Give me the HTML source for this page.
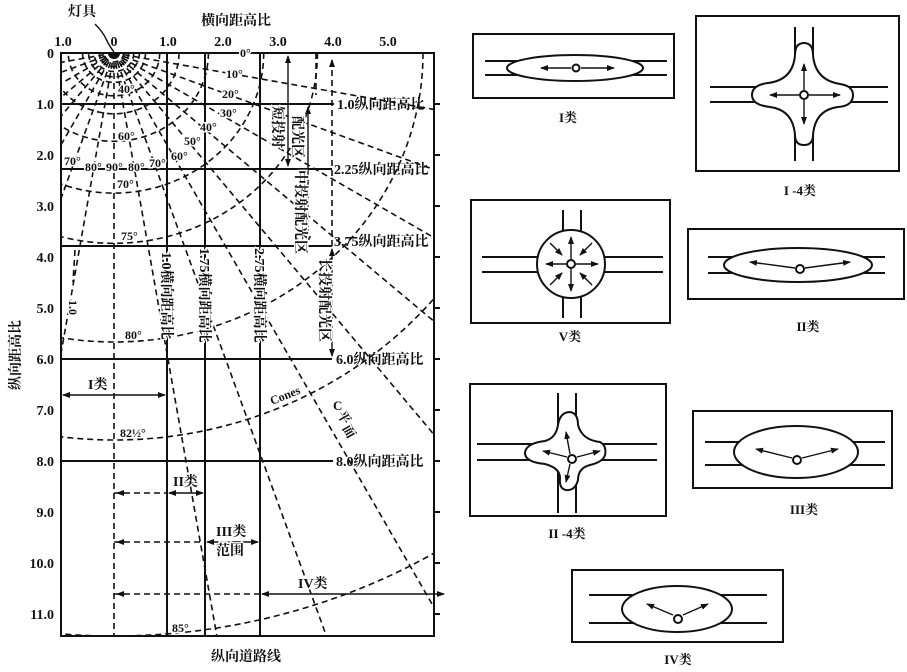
<!DOCTYPE html>
<html><head><meta charset="utf-8">
<style>
html,body{margin:0;padding:0;background:#fff;width:907px;height:672px;overflow:hidden;}
svg{display:block;}
text{font-family:"Liberation Serif","Noto Serif CJK SC",serif;font-weight:bold;fill:#111;}
.d{fill:none;stroke:#111;stroke-width:1.6;stroke-dasharray:6 4;}
.s{fill:none;stroke:#111;stroke-width:2;}
.t{fill:none;stroke:#111;stroke-width:1.4;}
.h{paint-order:stroke;stroke:#fff;stroke-width:3px;}
</style></head>
<body>
<svg width="907" height="672" viewBox="0 0 907 672" xmlns="http://www.w3.org/2000/svg">
<defs>
<marker id="a" markerWidth="8" markerHeight="6" refX="7" refY="3" orient="auto" markerUnits="userSpaceOnUse"><path d="M0,0 L8,3 L0,6 Z" fill="#111"/></marker>
<marker id="b" markerWidth="8" markerHeight="6" refX="1" refY="3" orient="auto" markerUnits="userSpaceOnUse"><path d="M8,0 L0,3 L8,6 Z" fill="#111"/></marker>
<clipPath id="c"><rect x="61" y="53" width="373" height="583"/></clipPath>
</defs>

<g clip-path="url(#c)">
<g class="d">
<line x1="114" y1="53" x2="902" y2="192"/>
<line x1="114" y1="53" x2="866" y2="327"/>
<line x1="114" y1="53" x2="807" y2="453"/>
<line x1="114" y1="53" x2="727" y2="567"/>
<line x1="114" y1="53" x2="628" y2="666"/>
<line x1="114" y1="53" x2="514" y2="746"/>
<line x1="114" y1="53" x2="388" y2="805"/>
<line x1="114" y1="53" x2="253" y2="841"/>
<line x1="114" y1="53" x2="114" y2="853"/>
<line x1="114" y1="53" x2="-25" y2="841"/>
<line x1="114" y1="53" x2="-160" y2="805"/>
<line x1="114" y1="53" x2="-286" y2="746"/>
<line x1="114" y1="53" x2="-400" y2="666"/>
<line x1="114" y1="53" x2="-499" y2="567"/>
<line x1="114" y1="53" x2="-579" y2="453"/>
<line x1="114" y1="53" x2="-638" y2="327"/>
<line x1="114" y1="53" x2="-674" y2="192"/>
<ellipse cx="114" cy="53" rx="5" ry="5"/>
<ellipse cx="114" cy="53" rx="9.6" ry="9"/>
<ellipse cx="114" cy="53" rx="14.6" ry="13.7"/>
<ellipse cx="114" cy="53" rx="19.8" ry="18.6"/>
<ellipse cx="114" cy="53" rx="25.4" ry="23.8"/>
<ellipse cx="114" cy="53" rx="31.5" ry="29.4"/>
<ellipse cx="114" cy="53" rx="45.7" ry="42.8"/>
<ellipse cx="114" cy="53" rx="65" ry="60.8"/>
<ellipse cx="114" cy="53" rx="94.4" ry="88.3"/>
<ellipse cx="114" cy="53" rx="149.7" ry="140.1"/>
<ellipse cx="114" cy="53" rx="203.4" ry="190.3"/>
<ellipse cx="114" cy="53" rx="309" ry="289"/>
<ellipse cx="114" cy="53" rx="414" ry="387"/>
<ellipse cx="114" cy="53" rx="623" ry="583"/>
</g>
</g>
<line class="d" x1="75" y1="250" x2="73" y2="282"/>

<rect x="61" y="53" width="373" height="583" class="s"/>
<line class="s" x1="61" y1="104" x2="334" y2="104"/>
<line class="s" x1="61" y1="169" x2="332" y2="169"/>
<line class="s" x1="61" y1="246" x2="332" y2="246"/>
<line class="s" x1="61" y1="359" x2="332" y2="359"/>
<line class="s" x1="61" y1="461" x2="333" y2="461"/>
<line class="s" x1="167" y1="53" x2="167" y2="636"/>
<line class="s" x1="205" y1="53" x2="205" y2="636"/>
<line class="s" x1="260" y1="53" x2="260" y2="636"/>
<line class="d" x1="316" y1="53" x2="316" y2="95"/>
<line class="d" x1="332" y1="60" x2="332" y2="246" marker-start="url(#b)"/>
<line class="t" x1="288" y1="56" x2="288" y2="166" marker-start="url(#b)" marker-end="url(#a)"/>
<line class="t" x1="308" y1="107" x2="308" y2="243" marker-start="url(#b)" marker-end="url(#a)"/>
<line class="t" x1="332" y1="249" x2="332" y2="356" marker-start="url(#b)" marker-end="url(#a)"/>
<g class="s">
<line x1="434" y1="104" x2="440" y2="104"/><line x1="434" y1="155" x2="440" y2="155"/>
<line x1="434" y1="206" x2="440" y2="206"/><line x1="434" y1="257" x2="440" y2="257"/>
<line x1="434" y1="308" x2="440" y2="308"/><line x1="434" y1="359" x2="440" y2="359"/>
<line x1="434" y1="410" x2="440" y2="410"/><line x1="434" y1="461" x2="440" y2="461"/>
<line x1="434" y1="512" x2="440" y2="512"/><line x1="434" y1="563" x2="440" y2="563"/>
<line x1="434" y1="614" x2="440" y2="614"/>
</g>
<line class="t" x1="63" y1="395" x2="165" y2="395" marker-start="url(#b)" marker-end="url(#a)"/>
<line class="d" x1="114" y1="493" x2="167" y2="493"/>
<line class="t" x1="117" y1="493" x2="125" y2="493" marker-start="url(#b)"/>
<line class="t" x1="169" y1="493" x2="203" y2="493" marker-start="url(#b)" marker-end="url(#a)"/>
<line class="d" x1="114" y1="542" x2="205" y2="542"/>
<line class="t" x1="117" y1="542" x2="125" y2="542" marker-start="url(#b)"/>
<line class="t" x1="207" y1="542" x2="258" y2="542" marker-start="url(#b)" marker-end="url(#a)"/>
<line class="d" x1="114" y1="594" x2="260" y2="594"/>
<line class="t" x1="117" y1="594" x2="125" y2="594" marker-start="url(#b)"/>
<line class="t" x1="262" y1="594" x2="444" y2="594" marker-start="url(#b)" marker-end="url(#a)"/>
<path class="t" d="M95,24 Q103,32 106,39 Q110,47 114,52"/>

<g font-size="14">
<text x="82" y="16" text-anchor="middle">灯具</text>
<text x="236" y="25" text-anchor="middle">横向距高比</text>
<text x="63" y="46" text-anchor="middle">1.0</text>
<text x="114" y="46" text-anchor="middle">0</text>
<text x="168" y="46" text-anchor="middle">1.0</text>
<text x="223" y="46" text-anchor="middle">2.0</text>
<text x="278" y="46" text-anchor="middle">3.0</text>
<text x="333" y="46" text-anchor="middle">4.0</text>
<text x="388" y="46" text-anchor="middle">5.0</text>
</g>
<g font-size="14" text-anchor="end">
<text x="54" y="58">0</text>
<text x="54" y="109">1.0</text>
<text x="54" y="160">2.0</text>
<text x="54" y="211">3.0</text>
<text x="54" y="262">4.0</text>
<text x="54" y="313">5.0</text>
<text x="54" y="364">6.0</text>
<text x="54" y="415">7.0</text>
<text x="54" y="466">8.0</text>
<text x="54" y="517">9.0</text>
<text x="54" y="568">10.0</text>
<text x="54" y="619">11.0</text>
</g>
<text x="0" y="0" font-size="14" text-anchor="middle" transform="translate(20,355) rotate(-90)">纵向距高比</text>
<text x="246" y="661" font-size="14" text-anchor="middle">纵向道路线</text>

<g font-size="14">
<text x="337" y="109">1.0纵向距高比</text>
<text x="334" y="174">2.25纵向距高比</text>
<text x="334" y="246">3.75纵向距高比</text>
<text x="336" y="364">6.0纵向距高比</text>
<text x="336" y="466">8.0纵向距高比</text>
</g>

<g font-size="14" class="h">
<text x="0" y="0" transform="translate(162,252) rotate(90)">1.0横向距高比</text>
<text x="0" y="0" transform="translate(200,248) rotate(90)">1.75横向距高比</text>
<text x="0" y="0" transform="translate(255,248) rotate(90)">2.75横向距高比</text>
<text x="0" y="0" transform="translate(320,258) rotate(90)">长投射配光区</text>
<text x="0" y="0" transform="translate(273,106) rotate(90)">短投射</text>
<text x="0" y="0" transform="translate(293,116) rotate(90)">配光区</text>
<text x="0" y="0" transform="translate(296,170) rotate(90)">中投射配光区</text>
<text x="0" y="0" font-size="12" transform="translate(69,300) rotate(90)">1.0</text>
</g>

<g font-size="12" class="h">
<text x="240" y="57">0°</text>
<text x="226" y="78">10°</text>
<text x="222" y="98">20°</text>
<text x="220" y="117">30°</text>
<text x="200" y="131">40°</text>
<text x="184" y="145">50°</text>
<text x="171" y="160">60°</text>
<text x="64" y="165">70°</text>
<text x="85" y="171">80°</text>
<text x="106" y="171">90°</text>
<text x="128" y="171">80°</text>
<text x="149" y="167">70°</text>
<text x="118" y="93">40°</text>
<text x="118" y="140">60°</text>
<text x="117" y="188">70°</text>
<text x="121" y="240">75°</text>
<text x="125" y="339">80°</text>
<text x="120" y="437">82½°</text>
<text x="172" y="632">85°</text>
<text x="88" y="389" font-size="14">I类</text>
<text x="173" y="486" font-size="14">II类</text>
<text x="216" y="536" font-size="14">III类</text>
<text x="216" y="555" font-size="14">范围</text>
<text x="298" y="588" font-size="14">IV类</text>
<text x="0" y="0" font-size="12" transform="translate(272,405) rotate(-22)">Cones</text>
<text x="333" y="410" font-size="13">C</text>
<text x="0" y="0" font-size="13" transform="translate(337,414) rotate(60)">平</text>
<text x="0" y="0" font-size="13" transform="translate(342,428) rotate(60)">面</text>
</g>

<g class="s">
<rect x="473" y="34" width="201" height="64"/>
<line x1="485" y1="61" x2="667" y2="61"/><line x1="485" y1="75" x2="667" y2="75"/>
<ellipse cx="575" cy="68" rx="68" ry="13" fill="#fff"/>
<circle cx="576" cy="68" r="3.5"/>
</g>
<g class="t">
<line x1="571" y1="68" x2="541" y2="68" marker-end="url(#a)"/>
<line x1="581" y1="68" x2="614" y2="68" marker-end="url(#a)"/>
</g>
<text x="568" y="122" font-size="13" text-anchor="middle">I类</text>

<g class="s">
<rect x="696" y="16" width="203" height="155"/>
<line x1="710" y1="87" x2="888" y2="87"/><line x1="710" y1="102" x2="888" y2="102"/>
<line x1="795" y1="27" x2="795" y2="161"/><line x1="813" y1="27" x2="813" y2="161"/>
<path d="M795,55 Q795,43 804,43 Q813,43 813,55 Q815,80 840,84 Q853,86 853,95 Q853,106 838,107 Q815,110 813,135 Q813,145 804,145 Q795,145 795,135 Q793,110 770,107 Q752,105 752,95 Q752,85 768,83 Q793,80 795,55 Z" fill="#fff"/>
<circle cx="804" cy="95" r="4"/>
</g>
<g class="t">
<line x1="804" y1="90" x2="804" y2="64" marker-end="url(#a)"/>
<line x1="804" y1="100" x2="804" y2="124" marker-end="url(#a)"/>
<line x1="799" y1="95" x2="770" y2="95" marker-end="url(#a)"/>
<line x1="809" y1="95" x2="840" y2="95" marker-end="url(#a)"/>
</g>
<text x="800" y="195" font-size="13" text-anchor="middle">I -4类</text>

<g class="s">
<rect x="471" y="200" width="199" height="123"/>
<line x1="482" y1="257" x2="663" y2="257"/><line x1="482" y1="272" x2="663" y2="272"/>
<line x1="563" y1="210" x2="563" y2="318"/><line x1="581" y1="210" x2="581" y2="318"/>
<circle cx="571" cy="264" r="34" fill="#fff"/>
<circle cx="571" cy="264" r="4"/>
</g>
<g class="t">
<line x1="571" y1="259" x2="571" y2="237" marker-end="url(#a)"/>
<line x1="571" y1="269" x2="571" y2="291" marker-end="url(#a)"/>
<line x1="566" y1="264" x2="546" y2="264" marker-end="url(#a)"/>
<line x1="576" y1="264" x2="598" y2="264" marker-end="url(#a)"/>
<line x1="550" y1="243" x2="562" y2="255" marker-end="url(#a)"/>
<line x1="592" y1="243" x2="580" y2="255" marker-end="url(#a)"/>
<line x1="550" y1="285" x2="562" y2="273" marker-end="url(#a)"/>
<line x1="592" y1="285" x2="580" y2="273" marker-end="url(#a)"/>
</g>
<text x="570" y="341" font-size="13" text-anchor="middle">V类</text>

<g class="s">
<rect x="688" y="229" width="216" height="70"/>
<line x1="708" y1="257" x2="885" y2="257"/><line x1="708" y1="273" x2="885" y2="273"/>
<ellipse cx="798" cy="265" rx="74" ry="17" fill="#fff"/>
<circle cx="800" cy="269" r="4"/>
</g>
<g class="t">
<line x1="795" y1="268" x2="750" y2="262" marker-end="url(#a)"/>
<line x1="805" y1="268" x2="850" y2="262" marker-end="url(#a)"/>
</g>
<text x="808" y="331" font-size="13" text-anchor="middle">II类</text>

<g class="s">
<rect x="470" y="384" width="196" height="132"/>
<line x1="477" y1="444" x2="657" y2="444"/><line x1="477" y1="460" x2="657" y2="460"/>
<line x1="558" y1="393" x2="558" y2="513"/><line x1="576" y1="393" x2="576" y2="513"/>
<path d="M558,425 Q560,412 570,412 Q578,413 578,425 Q582,440 600,442 Q607,446 605,455 Q603,462 590,465 Q578,468 578,480 Q575,491 566,490 Q559,489 560,478 Q560,468 545,464 Q524,462 525,452 Q527,443 545,441 Q556,438 558,425 Z" fill="#fff"/>
<circle cx="572" cy="459" r="4"/>
</g>
<g class="t">
<line x1="570" y1="454" x2="566" y2="432" marker-end="url(#a)"/>
<line x1="567" y1="457" x2="543" y2="451" marker-end="url(#a)"/>
<line x1="577" y1="457" x2="600" y2="451" marker-end="url(#a)"/>
<line x1="570" y1="464" x2="566" y2="482" marker-end="url(#a)"/>
</g>
<text x="567" y="538" font-size="13" text-anchor="middle">II -4类</text>

<g class="s">
<rect x="693" y="411" width="199" height="77"/>
<line x1="705" y1="442" x2="885" y2="442"/><line x1="705" y1="465" x2="885" y2="465"/>
<ellipse cx="796" cy="452" rx="62" ry="26" fill="#fff"/>
<circle cx="797" cy="460" r="4"/>
</g>
<g class="t">
<line x1="792" y1="458" x2="756" y2="449" marker-end="url(#a)"/>
<line x1="802" y1="458" x2="838" y2="449" marker-end="url(#a)"/>
</g>
<text x="804" y="514" font-size="13" text-anchor="middle">III类</text>

<g class="s">
<rect x="572" y="570" width="211" height="72"/>
<line x1="589" y1="595" x2="767" y2="595"/><line x1="589" y1="623" x2="767" y2="623"/>
<ellipse cx="677" cy="609" rx="55" ry="23" fill="#fff"/>
<circle cx="678" cy="619" r="4"/>
</g>
<g class="t">
<line x1="673" y1="615" x2="647" y2="604" marker-end="url(#a)"/>
<line x1="683" y1="615" x2="708" y2="604" marker-end="url(#a)"/>
</g>
<text x="678" y="664" font-size="13" text-anchor="middle">IV类</text>
</svg>
</body></html>
